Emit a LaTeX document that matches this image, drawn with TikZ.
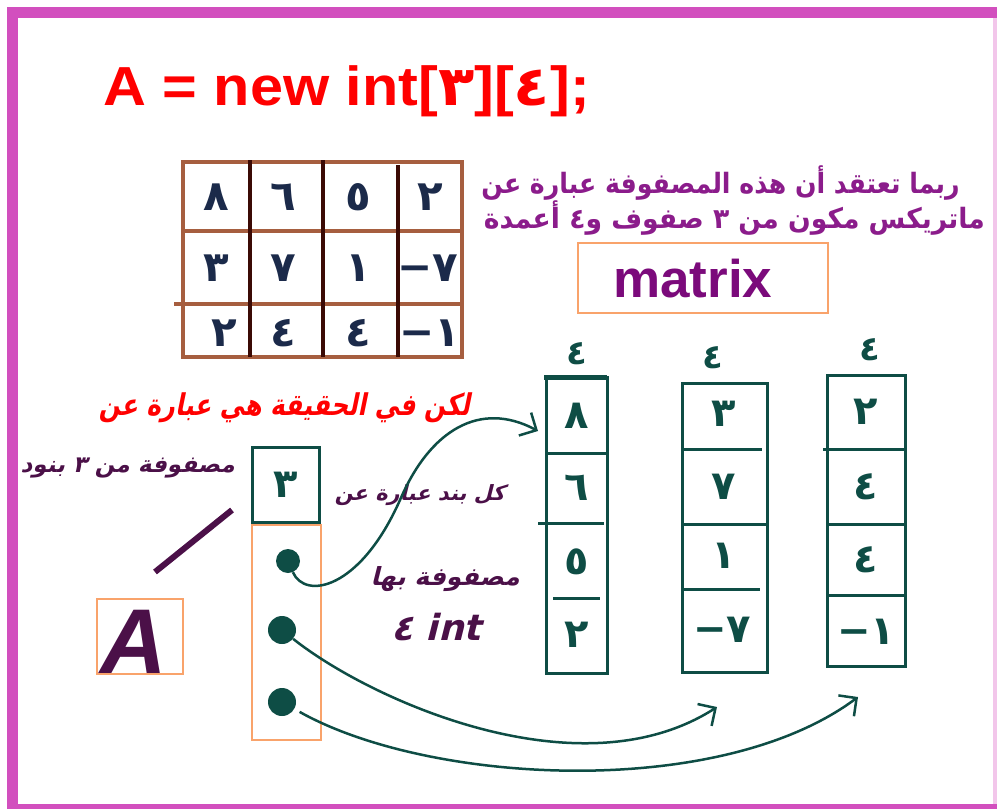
\documentclass[tikz,border=0pt]{standalone}
\usepackage{fontspec}
\setmainfont{Liberation Sans}
\newfontfamily\arb[Script=Arabic]{DejaVu Sans}
\newfontfamily\arbit[Script=Arabic,FakeSlant=0.25]{DejaVu Sans}
\newfontfamily\latit{Liberation Sans}
\TeXXeTstate=1
\usetikzlibrary{arrows.meta}
\definecolor{magbar}{HTML}{D24FBE}
\definecolor{lightbar}{HTML}{F2C6EA}
\definecolor{titlered}{HTML}{FF0000}
\definecolor{tbrown}{HTML}{A65E3F}
\definecolor{tcol}{HTML}{3B0A05}
\definecolor{navy}{HTML}{1B2A4A}
\definecolor{purp}{HTML}{8B1C8B}
\definecolor{mpurp}{HTML}{7B0A7B}
\definecolor{dpurp}{HTML}{4B1048}
\definecolor{tealc}{HTML}{0E4D45}
\definecolor{orbox}{HTML}{F9A36B}
\newcommand{\negd}[1]{\mbox{−}\mbox{#1}}
\begin{document}
\begin{tikzpicture}[x=1pt,y=-1pt,
  dig/.style={inner sep=0,text=navy,font=\arb\bfseries\fontsize{42}{42}\selectfont},
  adig/.style={inner sep=0,text=tealc,font=\arb\bfseries\fontsize{40}{40}\selectfont},
  tline/.style={draw=tealc,line width=3},
  conn/.style={draw=tealc,line width=2.5,-{Straight Barb[length=13pt,width=26pt,line width=2.5pt]}},
  obox/.style={draw=orbox,line width=2.5}]
\useasboundingbox (0,0) rectangle (997,809);
\fill[white] (0,0) rectangle (997,809);
% frame
\fill[magbar] (7,7) rectangle (997,18);
\fill[magbar] (7,7) rectangle (18,809);
\fill[magbar] (7,804) rectangle (997,809);
\fill[lightbar] (993,18) rectangle (997,804);
% title
\node[anchor=base west,inner sep=0,text=titlered,font=\fontsize{55}{55}\selectfont\bfseries] (title) at (103,105)
  {\scalebox{1.08}[1]{A = new int[{\arb ٣}][{\arb ٤}];}};
% top table
\draw[tbrown,line width=3.5] (183,162) rectangle (462,357);
\draw[tbrown,line width=3.5] (183,231) -- (462,231);
\draw[tbrown,line width=3.5] (174,304) -- (460,304);
\draw[tcol,line width=3.5] (250,160) -- (250,357);
\draw[tcol,line width=3.5] (323,160) -- (323,357);
\draw[tcol,line width=3.5] (398,165) -- (398,357);
\node[dig] (t11) at (216,197) {٨};
\node[dig] (t12) at (283,197) {٦};
\node[dig] (t13) at (358,197) {٥};
\node[dig] (t14) at (430,197) {٢};
\node[dig] (t21) at (216,268) {٣};
\node[dig] (t22) at (283,268) {٧};
\node[dig] (t23) at (358,268) {١};
\node[dig] (t24) at (428,268) {\negd{٧}};
\node[dig] (t31) at (224,333) {٢};
\node[dig] (t32) at (283,333) {٤};
\node[dig] (t33) at (358,333) {٤};
\node[dig] (t34) at (430,333) {\negd{١}};
% purple explanation
\node[anchor=base east,inner sep=0,text=purp,font=\arb\bfseries\fontsize{28}{28}\selectfont] (exp1) at (960,193)
  {\scalebox{0.9}[1]{\beginR ربما تعتقد أن هذه المصفوفة عبارة عن\endR}};
\node[anchor=base east,inner sep=0,text=purp,font=\arb\bfseries\fontsize{28}{28}\selectfont] (exp2) at (985,228)
  {\scalebox{0.95}[1]{\beginR ماتريكس مكون من ٣ صفوف و٤ أعمدة\endR}};
% matrix box
\node[obox,minimum width=250,minimum height=70,inner sep=0] (mbox) at (703,278) {};
\node[anchor=base west,inner sep=0,text=mpurp,font=\fontsize{53}{53}\selectfont\bfseries] (mtext) at (613,297) {matrix};
% red text
\node[anchor=base east,inner sep=0,text=titlered,font=\arbit\bfseries\fontsize{30}{30}\selectfont] (red) at (470,415)
  {\scalebox{0.82}[1]{\beginR لكن في الحقيقة هي عبارة عن\endR}};
% small labels
\node[anchor=base east,inner sep=0,text=dpurp,font=\arbit\bfseries\fontsize{23}{23}\selectfont] (lab1) at (235,472)
  {\beginR مصفوفة من ٣ بنود\endR};
\node[anchor=base east,inner sep=0,text=dpurp,font=\arbit\bfseries\fontsize{21}{21}\selectfont] (lab2) at (505,500)
  {\beginR كل بند عبارة عن\endR};
\node[anchor=base east,inner sep=0,text=dpurp,font=\arbit\bfseries\fontsize{25}{25}\selectfont] (lab3) at (520,585)
  {\beginR مصفوفة بها\endR};
\node[anchor=base west,inner sep=0,text=dpurp,font=\arbit\bfseries\fontsize{36}{36}\selectfont] (lab4) at (391,640)
  {٤ int};
% box 3 and pointer box
\node[draw=tealc,line width=3,minimum width=67,minimum height=75,inner sep=0,adig] (b3) at (286,485) {٣};
\draw[obox] (252,525) rectangle (321,740);
\node[circle,fill=tealc,minimum size=24,inner sep=0] (d1) at (288,561) {};
\node[circle,fill=tealc,minimum size=28,inner sep=0] (d2) at (282,630) {};
\node[circle,fill=tealc,minimum size=28,inner sep=0] (d3) at (282,702) {};
% slash and A
\draw[dpurp,line width=6] (155,572) -- (232,510);
\draw[obox] (97,599) rectangle (183,674);
\node[anchor=base west,inner sep=0,text=dpurp,font=\latit\bfseries\itshape\fontsize{92}{92}\selectfont] (bigA) at (100,673) {A};
% arrays
\draw[tline] (546,377) rectangle (607,673);
\draw[tealc,line width=5] (544,377) -- (607,377);
\draw[tline] (546,453) -- (607,453);
\draw[tline] (538,523) -- (604,523);
\draw[tline] (553,598) -- (600,598);
\draw[tline] (682,383) rectangle (767,672);
\draw[tline] (682,449) -- (762,449);
\draw[tline] (682,524) -- (769,524);
\draw[tline] (682,589) -- (760,589);
\draw[tline] (827,375) rectangle (905,666);
\draw[tline] (823,449) -- (905,449);
\draw[tline] (827,524) -- (905,524);
\draw[tline] (827,595) -- (905,595);
\node[adig,font=\arb\bfseries\fontsize{34}{34}\selectfont] (h1) at (577,354) {٤};
\node[adig,font=\arb\bfseries\fontsize{34}{34}\selectfont] (h2) at (713,358) {٤};
\node[adig,font=\arb\bfseries\fontsize{34}{34}\selectfont] (h3) at (870,350) {٤};
\node[adig] (a11) at (577,416) {٨};
\node[adig] (a12) at (577,488) {٦};
\node[adig] (a13) at (577,562) {٥};
\node[adig] (a14) at (577,635) {٢};
\node[adig] (a21) at (724,414) {٣};
\node[adig] (a22) at (724,487) {٧};
\node[adig] (a23) at (724,556) {١};
\node[adig] (a24) at (722,630) {\negd{٧}};
\node[adig] (a31) at (866,412) {٢};
\node[adig] (a32) at (866,487) {٤};
\node[adig] (a33) at (866,560) {٤};
\node[adig] (a34) at (866,632) {\negd{١}};
% connectors
\coordinate (tip1) at (538,431);
\coordinate (tip2) at (717,707);
\coordinate (tip3) at (858,697);
\draw[conn] (d1) .. controls (305,600) and (360,590) .. (400,500) .. controls (430,430) and (480,400) .. (tip1);
\draw[conn] (d2) .. controls (370,700) and (580,795) .. (tip2);
\draw[conn,shorten <=6pt] (d3) .. controls (430,785) and (720,800) .. (tip3);
\end{tikzpicture}
\end{document}
